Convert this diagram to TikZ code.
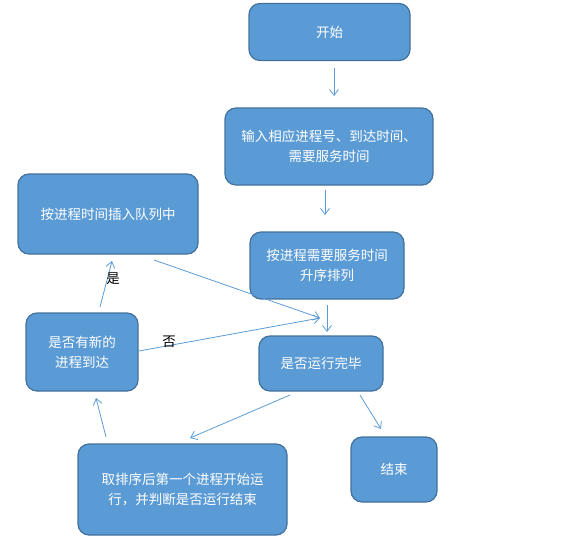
\documentclass[tikz,border=0pt]{standalone}
\usepackage{fontspec}
\setmainfont{Noto Sans CJK SC}
\usetikzlibrary{arrows.meta}
\definecolor{boxfill}{HTML}{5B9BD5}
\definecolor{boxline}{HTML}{41719C}
\definecolor{arr}{HTML}{5B9BD5}
\tikzset{
  box/.style={draw=boxline, line width=1.2pt, fill=boxfill, rounded corners=11pt,
    text=white, font=\fontsize{13.5}{20}\selectfont, align=center, inner sep=0pt},
  conn/.style={draw=arr, line width=0.8pt, -{Straight Barb[length=6pt,width=9pt]}},
  lbl/.style={font=\fontsize{13.5}{16}\selectfont, text=black, inner sep=0pt}
}
\begin{document}
\begin{tikzpicture}[x=1pt,y=-1pt]
\useasboundingbox (0,0) rectangle (567,541);
\node[box, minimum width=161pt, minimum height=57pt] (start) at (329.5,32) {开始};
\node[box, minimum width=208pt, minimum height=77pt] (input) at (329,146.5) {输入相应进程号、到达时间、\\需要服务时间};
\node[box, minimum width=180pt, minimum height=80pt] (insert) at (108,214) {按进程时间插入队列中};
\node[box, minimum width=154pt, minimum height=67pt] (sort) at (327,265.5) {按进程需要服务时间\\升序排列};
\node[box, minimum width=112pt, minimum height=78pt] (newq) at (82,352) {是否有新的\\进程到达};
\node[box, minimum width=124pt, minimum height=55pt] (done) at (321,363.5) {是否运行完毕};
\node[box, minimum width=209pt, minimum height=91pt] (run) at (182.5,489.5) {取排序后第一个进程开始运\\行，并判断是否运行结束};
\node[box, minimum width=86pt, minimum height=65pt] (end) at (394,469.5) {结束};

\coordinate (a1) at (334,68); \coordinate (a2) at (334,96);
\coordinate (b1) at (325,190); \coordinate (b2) at (325,215);
\coordinate (c1) at (327,305); \coordinate (c2) at (327,332);
\coordinate (m) at (320,318);
\coordinate (d1) at (154,260);
\coordinate (e1) at (139,351);
\coordinate (f1) at (100,307); \coordinate (f2) at (112,261);
\coordinate (g1) at (290,395); \coordinate (g2) at (190,438);
\coordinate (h1) at (360,395); \coordinate (h2) at (381,429);
\coordinate (i1) at (106,437); \coordinate (i2) at (96,398);

\draw[conn] (a1) -- (a2);
\draw[conn] (b1) -- (b2);
\draw[conn] (c1) -- (c2);
\draw[conn] (d1) -- (m);
\draw[conn] (e1) -- (m);
\draw[conn] (f1) -- (f2);
\draw[conn] (g1) -- (g2);
\draw[conn] (h1) -- (h2);
\draw[conn] (i1) -- (i2);

\node[lbl] (yes) at (113,279) {是};
\node[lbl] (no) at (169,342) {否};
\end{tikzpicture}
\end{document}
